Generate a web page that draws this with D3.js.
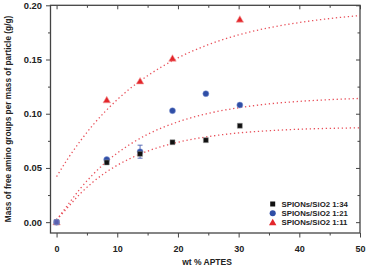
<!DOCTYPE html>
<html>
<head>
<meta charset="utf-8">
<script src="https://cdn.jsdelivr.net/npm/d3@7"></script>
<style>
  html, body { margin: 0; padding: 0; background: #fff; }
  svg { display: block; }
  text { font-family: "Liberation Sans", Arial, sans-serif; font-weight: bold; }
</style>
</head>
<body>
<div id="chart"></div>
<script>
// measured points (wt % APTES vs g/g)
const xLoad = [0, 8.27, 13.76, 19.1, 24.6, 30.2];
const ratio34 = [0, 0.055, 0.063, 0.0737, 0.0756, 0.0889];
const ratio21 = [0, 0.0577, 0.065, 0.1028, 0.1185, 0.108];
const err21 = [0, 0, 0.006, 0, 0, 0];
const xLoad11 = [0, 8.27, 13.76, 19.1, 30.2];
const ratio11 = [0, 0.1126, 0.130, 0.151, 0.187];

// dotted fit curves
const fitX = [0, 2, 4, 6, 8, 10, 12, 15, 20, 25, 30, 35, 40, 45, 50];
const fit11 = [0.042, 0.0598, 0.0755, 0.0896, 0.102, 0.113, 0.1227, 0.135, 0.1515, 0.1637, 0.1727, 0.1793, 0.1841, 0.1878, 0.1905];
const fit21 = [0.002, 0.017, 0.0316, 0.044, 0.0547, 0.0637, 0.0714, 0.081, 0.0925, 0.1003, 0.1055, 0.1091, 0.1114, 0.113, 0.1141];
const fit34 = [0.002, 0.0146, 0.0268, 0.037, 0.0455, 0.0525, 0.0584, 0.0655, 0.0737, 0.0789, 0.0823, 0.0843, 0.0857, 0.0865, 0.087];

const xTicks = [0, 10, 20, 30, 40, 50];
const yTicks = [0, 0.05, 0.10, 0.15, 0.20];
const legendLabels = ['SPIONs/SiO2 1:34', 'SPIONs/SiO2 1:21', 'SPIONs/SiO2 1:11'];

const width = 368, height = 266;
const m = { left: 50.5, right: 360, top: 5.3, bottom: 233 };

const svg = d3.select('#chart').append('svg')
  .attr('width', width)
  .attr('height', height);

const x = d3.scaleLinear().domain([-1, 50]).range([m.left, m.right]);
const y = d3.scaleLinear().domain([-0.01, 0.20]).range([m.bottom, m.top]);

const axisColor = '#444';
const xMinor = d3.range(0, 51, 5);
const yMinor = d3.range(0, 0.201, 0.025);
const isMajorY = d => yTicks.some(t => Math.abs(t - d) < 1e-6);

// axes (ticks outward on bottom/left, inward on top/right)
const gx = svg.append('g').attr('transform', `translate(0,${m.bottom})`)
  .call(d3.axisBottom(x).tickValues(xMinor).tickSize(4.5)
    .tickFormat(d => xTicks.includes(d) ? d3.format('d')(d) : ''));
const gy = svg.append('g').attr('transform', `translate(${m.left},0)`)
  .call(d3.axisLeft(y).tickValues(yMinor).tickSize(4.5)
    .tickFormat(d => isMajorY(d) ? d3.format('.2f')(d) : ''));
const gt = svg.append('g').attr('transform', `translate(0,${m.top})`)
  .call(d3.axisBottom(x).tickValues(xMinor).tickSize(4).tickFormat(''));
const gr = svg.append('g').attr('transform', `translate(${m.right},0)`)
  .call(d3.axisLeft(y).tickValues(yMinor).tickSize(4).tickFormat(''));

[gx, gy, gt, gr].forEach(g => {
  g.select('.domain').remove();
  g.selectAll('line').attr('stroke', axisColor).attr('stroke-width', 1);
  g.selectAll('text').attr('fill', '#222');
});
gx.selectAll('text').style('font-size', '9px').attr('y', 13);
gy.selectAll('text').style('font-size', '9.4px').attr('x', -8.5);
// minor ticks shorter
gx.selectAll('.tick').filter(d => !xTicks.includes(d)).select('line').attr('y2', 2.5);
gy.selectAll('.tick').filter(d => !isMajorY(d)).select('line').attr('x2', -2.5);
gt.selectAll('.tick').filter(d => !xTicks.includes(d)).select('line').attr('y2', 2.5);
gr.selectAll('.tick').filter(d => !isMajorY(d)).select('line').attr('x2', -2.5);

svg.append('rect')
  .attr('x', m.left).attr('y', m.top)
  .attr('width', m.right - m.left).attr('height', m.bottom - m.top)
  .attr('fill', 'none').attr('stroke', axisColor).attr('stroke-width', 1.3);

// fit curves
const line = d3.line()
  .x((d, i) => x(fitX[i]))
  .y(d => y(d))
  .curve(d3.curveMonotoneX);

[fit11, fit21, fit34].forEach(f => {
  svg.append('path')
    .attr('d', line(f))
    .attr('fill', 'none')
    .attr('stroke', '#e8505a')
    .attr('stroke-width', 1.3)
    .attr('stroke-dasharray', '1.3,2.7');
});

// error bars
const eb = svg.append('g').attr('stroke', '#4a5fb0').attr('stroke-width', 0.9);
xLoad.forEach((v, i) => {
  if (!err21[i]) return;
  const cx = x(v);
  eb.append('line').attr('x1', cx).attr('x2', cx)
    .attr('y1', y(ratio21[i] - err21[i])).attr('y2', y(ratio21[i] + err21[i]));
  [-1, 1].forEach(s => eb.append('line')
    .attr('x1', cx - 2.5).attr('x2', cx + 2.5)
    .attr('y1', y(ratio21[i] + s * err21[i])).attr('y2', y(ratio21[i] + s * err21[i])));
});

const sq = d3.symbol().type(d3.symbolSquare).size(25);
const circ = d3.symbol().type(d3.symbolCircle).size(29);
const tri = d3.symbol().type(d3.symbolTriangle).size(24);

const black = '#111', blue = '#2f4ea6', red = '#e3262b';

svg.append('g').selectAll('path').data(ratio11).join('path')
  .attr('d', tri)
  .attr('transform', (d, i) => `translate(${x(xLoad11[i])},${y(d) + 0.6})`)
  .attr('fill', red).attr('stroke', '#f3a0a0').attr('stroke-width', 0.6);
svg.append('g').selectAll('path').data(ratio21).join('path')
  .attr('d', circ)
  .attr('transform', (d, i) => `translate(${x(xLoad[i])},${y(d)})`)
  .attr('fill', blue).attr('stroke', '#8fa0d8').attr('stroke-width', 0.5);
svg.append('g').selectAll('path').data(ratio34).join('path')
  .attr('d', sq)
  .attr('transform', (d, i) => `translate(${x(xLoad[i])},${y(d)})`)
  .attr('fill', black).attr('stroke', '#999').attr('stroke-width', 0.5);
// origin point looks purple-blue (all overlapping)
svg.append('path').attr('d', sq)
  .attr('transform', `translate(${x(0)},${y(0)})`)
  .attr('fill', '#5a5fb0').attr('stroke', '#9aa0d8').attr('stroke-width', 0.5);

// legend
const legSyms = [sq, circ, tri];
const legCols = [black, blue, red];
const leg = svg.append('g');
legendLabels.forEach((t, i) => {
  const ly = 204 + i * 9.2;
  leg.append('path').attr('d', legSyms[i])
    .attr('transform', `translate(272.7,${ly + (i === 2 ? 0.6 : 0)})`)
    .attr('fill', legCols[i]);
  leg.append('text').attr('x', 281.5).attr('y', ly + 2.9)
    .attr('fill', '#222').style('font-size', '7.8px').text(t);
});

// axis titles
svg.append('text')
  .attr('transform', `translate(11,119) rotate(-90)`)
  .attr('text-anchor', 'middle')
  .attr('fill', '#222')
  .style('font-size', '8.3px')
  .text('Mass of free amino groups per mass of particle (g/g)');

svg.append('text')
  .attr('x', 207).attr('y', 265)
  .attr('text-anchor', 'middle')
  .attr('fill', '#222')
  .style('font-size', '8.5px')
  .text('wt % APTES');
</script>
</body>
</html>
